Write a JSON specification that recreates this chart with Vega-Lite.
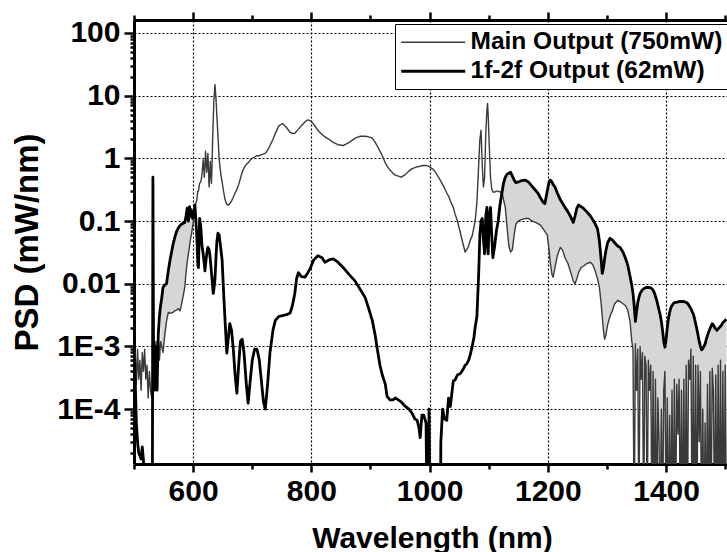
{
  "$schema": "https://vega.github.io/schema/vega-lite/v6.json",
  "width": 593,
  "height": 444,
  "autosize": "none",
  "padding": {"left": 134, "top": 20, "right": 0, "bottom": 88},
  "background": "white",
  "config": {"view": {"stroke": null}, "font": "Liberation Sans"},
  "data": {"values": [
    {"w":500,"main":4e-4,"f12":8e-4},{"w":502,"main":8e-4,"f12":3e-4},{"w":504,"main":2.5e-4,"f12":6e-5},{"w":506,"main":9e-4,"f12":3e-5},
    {"w":508,"main":3e-4,"f12":2e-5},{"w":510,"main":6e-4,"f12":1.8e-5},{"w":512,"main":2e-4,"f12":1.6e-5},{"w":514,"main":8e-4,"f12":2.5e-5},
    {"w":516,"main":4e-4,"f12":1.5e-5},{"w":518,"main":9e-4,"f12":1e-6},{"w":520,"main":3e-4,"f12":1e-6},{"w":522,"main":5e-4,"f12":1e-6},
    {"w":524,"main":1.5e-4,"f12":1e-6},{"w":526,"main":4e-4,"f12":1e-6},{"w":528,"main":2e-4,"f12":1e-6},{"w":530,"main":1.5e-4,"f12":1e-6},
    {"w":531,"main":2e-4,"f12":1e-6},{"w":532,"main":3e-4,"f12":0.5},{"w":533,"main":4e-4,"f12":1.2e-3},{"w":535,"main":3e-4,"f12":2e-4},
    {"w":537,"main":1.2e-3,"f12":1e-3},{"w":539,"main":4e-4,"f12":2e-4},{"w":541,"main":1.5e-3,"f12":1.5e-3},{"w":543,"main":6e-4,"f12":3e-3},
    {"w":545,"main":1.2e-3,"f12":4.5e-3},{"w":547,"main":1e-3,"f12":6e-3},{"w":549,"main":8e-4,"f12":8.7e-3},{"w":552,"main":1.5e-3,"f12":9.5e-3},
    {"w":555,"main":2.5e-3,"f12":0.01},{"w":558,"main":3.5e-3,"f12":0.016},{"w":561,"main":3.4e-3,"f12":0.024},{"w":563,"main":3.4e-3,"f12":0.03},
    {"w":566,"main":3.5e-3,"f12":0.042},{"w":569,"main":3.7e-3,"f12":0.055},{"w":572,"main":3.8e-3,"f12":0.068},{"w":575,"main":4e-3,"f12":0.078},
    {"w":578,"main":3.7e-3,"f12":0.085},{"w":581,"main":5e-3,"f12":0.09},{"w":584,"main":7e-3,"f12":0.093},{"w":586,"main":9e-3,"f12":0.095},
    {"w":588,"main":0.015,"f12":0.12},{"w":590,"main":0.022,"f12":0.16},{"w":592,"main":0.03,"f12":0.1},{"w":594,"main":0.04,"f12":0.17},
    {"w":596,"main":0.055,"f12":0.12},{"w":597,"main":0.06,"f12":0.15},{"w":599,"main":0.08,"f12":0.11},{"w":601,"main":0.11,"f12":0.12},
    {"w":603,"main":0.16,"f12":0.18},{"w":605,"main":0.2,"f12":0.09},{"w":606,"main":0.21,"f12":0.064},{"w":608,"main":0.3,"f12":0.02},
    {"w":609,"main":0.3,"f12":0.018},{"w":611,"main":0.4,"f12":0.11},{"w":613,"main":0.42,"f12":0.08},{"w":615,"main":0.55,"f12":0.04},
    {"w":617,"main":0.95,"f12":0.03},{"w":619,"main":0.5,"f12":0.02},{"w":620,"main":0.8,"f12":0.016},{"w":621,"main":1.3,"f12":0.02},
    {"w":623,"main":0.6,"f12":0.03},{"w":625,"main":1.2,"f12":0.038},{"w":627,"main":0.35,"f12":0.035},{"w":628,"main":0.5,"f12":0.03},
    {"w":629,"main":0.9,"f12":0.025},{"w":631,"main":0.4,"f12":0.015},{"w":632,"main":0.8,"f12":0.012},{"w":633,"main":2,"f12":0.009},
    {"w":634,"main":4,"f12":0.007},{"w":635,"main":8,"f12":0.008},{"w":637,"main":15,"f12":0.012},{"w":639,"main":8,"f12":0.03},
    {"w":640,"main":5,"f12":0.045},{"w":642,"main":2.3,"f12":0.064},{"w":644,"main":1,"f12":0.06},{"w":645,"main":0.8,"f12":0.05},
    {"w":647,"main":0.55,"f12":0.035},{"w":649,"main":0.42,"f12":0.024},{"w":652,"main":0.28,"f12":0.006},{"w":654,"main":0.22,"f12":0.0026},
    {"w":657,"main":0.185,"f12":7.8e-4},{"w":660,"main":0.18,"f12":1.5e-3},{"w":662,"main":0.19,"f12":2.3e-3},{"w":665,"main":0.21,"f12":1.8e-3},
    {"w":668,"main":0.24,"f12":9e-4},{"w":671,"main":0.28,"f12":3.5e-4},{"w":674,"main":0.32,"f12":1.8e-4},{"w":677,"main":0.38,"f12":5e-4},
    {"w":680,"main":0.48,"f12":1.2e-3},{"w":683,"main":0.6,"f12":1.3e-3},{"w":686,"main":0.7,"f12":8e-4},{"w":690,"main":0.8,"f12":2.5e-4},
    {"w":693,"main":0.85,"f12":1.25e-4},{"w":696,"main":0.92,"f12":2.5e-4},{"w":700,"main":1.0,"f12":6e-4},{"w":704,"main":1.05,"f12":9e-4},
    {"w":708,"main":1.1,"f12":9e-4},{"w":712,"main":1.1,"f12":6e-4},{"w":716,"main":1.15,"f12":2.5e-4},{"w":719,"main":1.18,"f12":1.3e-4},
    {"w":722,"main":1.2,"f12":1e-4},{"w":726,"main":1.35,"f12":2.5e-4},{"w":730,"main":1.6,"f12":8e-4},{"w":735,"main":2.0,"f12":1.8e-3},
    {"w":739,"main":2.5,"f12":2.6e-3},{"w":745,"main":3.3,"f12":3e-3},{"w":751,"main":3.6,"f12":3.1e-3},{"w":758,"main":3.1,"f12":3.2e-3},
    {"w":764,"main":2.6,"f12":3.4e-3},{"w":768,"main":2.5,"f12":4.5e-3},{"w":772,"main":2.5,"f12":7e-3},{"w":775,"main":2.7,"f12":0.012},
    {"w":778,"main":2.9,"f12":0.015},{"w":783,"main":3.3,"f12":0.013},{"w":789,"main":3.8,"f12":0.0127},{"w":794,"main":4.1,"f12":0.015},
    {"w":798,"main":4.0,"f12":0.0175},{"w":804,"main":3.5,"f12":0.024},{"w":811,"main":2.8,"f12":0.028},{"w":818,"main":2.4,"f12":0.026},
    {"w":823,"main":2.2,"f12":0.022},{"w":830,"main":2.0,"f12":0.024},{"w":837,"main":1.8,"f12":0.025},{"w":845,"main":1.65,"f12":0.022},
    {"w":854,"main":1.6,"f12":0.018},{"w":864,"main":1.8,"f12":0.014},{"w":874,"main":2.1,"f12":0.011},{"w":883,"main":2.25,"f12":0.008},
    {"w":891,"main":2.25,"f12":0.006},{"w":897,"main":2.2,"f12":0.004},{"w":903,"main":2.1,"f12":2.6e-3},{"w":908,"main":1.8,"f12":1.5e-3},
    {"w":911,"main":1.6,"f12":9.7e-4},{"w":916,"main":1.3,"f12":5e-4},{"w":920,"main":1.1,"f12":3.5e-4},{"w":925,"main":0.85,"f12":2.5e-4},
    {"w":928,"main":0.75,"f12":1.6e-4},{"w":933,"main":0.65,"f12":1.4e-4},{"w":938,"main":0.58,"f12":1.4e-4},{"w":942,"main":0.54,"f12":1.5e-4},
    {"w":947,"main":0.52,"f12":1.4e-4},{"w":952,"main":0.5,"f12":1.3e-4},{"w":959,"main":0.55,"f12":1.1e-4},{"w":965,"main":0.63,"f12":1e-4},
    {"w":970,"main":0.68,"f12":8.7e-5},{"w":975,"main":0.71,"f12":7e-5},{"w":979,"main":0.73,"f12":6.6e-5},{"w":982,"main":0.74,"f12":5e-5},
    {"w":984,"main":0.75,"f12":3.5e-5},{"w":987,"main":0.76,"f12":8e-5},{"w":990,"main":0.77,"f12":8e-5},{"w":994,"main":0.77,"f12":6e-5},
    {"w":996,"main":0.76,"f12":1e-6},{"w":998,"main":0.75,"f12":1e-6},{"w":999,"main":0.74,"f12":1e-4},{"w":1001,"main":0.72,"f12":1e-6},
    {"w":1005,"main":0.68,"f12":1e-6},{"w":1010,"main":0.6,"f12":1e-6},{"w":1015,"main":0.5,"f12":1e-6},{"w":1018,"main":0.45,"f12":1e-6},
    {"w":1019,"main":0.43,"f12":3e-5},{"w":1022,"main":0.38,"f12":1e-4},{"w":1025,"main":0.34,"f12":7e-5},{"w":1029,"main":0.28,"f12":6.6e-5},
    {"w":1032,"main":0.25,"f12":1.5e-4},{"w":1035,"main":0.21,"f12":1.1e-4},{"w":1040,"main":0.165,"f12":2.8e-4},{"w":1043,"main":0.13,"f12":2.9e-4},
    {"w":1047,"main":0.1,"f12":3.5e-4},{"w":1052,"main":0.065,"f12":3.7e-4},{"w":1056,"main":0.045,"f12":4.2e-4},{"w":1060,"main":0.032,"f12":5e-4},
    {"w":1063,"main":0.035,"f12":5.3e-4},{"w":1066,"main":0.04,"f12":6e-4},{"w":1069,"main":0.05,"f12":7.5e-4},{"w":1072,"main":0.058,"f12":1e-3},
    {"w":1075,"main":0.08,"f12":1.4e-3},{"w":1077,"main":0.1,"f12":2e-3},{"w":1080,"main":0.2,"f12":3e-3},{"w":1083,"main":0.8,"f12":0.0146},
    {"w":1085,"main":2.0,"f12":0.06},{"w":1087,"main":2.8,"f12":0.1},{"w":1089,"main":0.8,"f12":0.11},{"w":1091,"main":0.35,"f12":0.05},
    {"w":1093,"main":0.5,"f12":0.03},{"w":1095,"main":2.5,"f12":0.12},{"w":1097,"main":6,"f12":0.165},{"w":1098,"main":7.5,"f12":0.04},
    {"w":1099,"main":5,"f12":0.03},{"w":1101,"main":1.5,"f12":0.12},{"w":1103,"main":0.5,"f12":0.165},{"w":1105,"main":0.33,"f12":0.06},
    {"w":1107,"main":0.29,"f12":0.026},{"w":1110,"main":0.29,"f12":0.04},{"w":1113,"main":0.3,"f12":0.07},{"w":1116,"main":0.3,"f12":0.1},
    {"w":1119,"main":0.29,"f12":0.18},{"w":1122,"main":0.3,"f12":0.27},{"w":1125,"main":0.22,"f12":0.4},{"w":1128,"main":0.165,"f12":0.5},
    {"w":1131,"main":0.08,"f12":0.56},{"w":1134,"main":0.04,"f12":0.58},{"w":1137,"main":0.032,"f12":0.6},{"w":1140,"main":0.035,"f12":0.52},
    {"w":1143,"main":0.06,"f12":0.45},{"w":1146,"main":0.09,"f12":0.41},{"w":1150,"main":0.1,"f12":0.42},{"w":1155,"main":0.105,"f12":0.44},
    {"w":1162,"main":0.11,"f12":0.45},{"w":1167,"main":0.11,"f12":0.42},{"w":1173,"main":0.1,"f12":0.36},{"w":1179,"main":0.095,"f12":0.31},
    {"w":1184,"main":0.09,"f12":0.27},{"w":1188,"main":0.085,"f12":0.23},{"w":1192,"main":0.075,"f12":0.2},{"w":1195,"main":0.068,"f12":0.19},
    {"w":1199,"main":0.06,"f12":0.3},{"w":1202,"main":0.035,"f12":0.42},{"w":1204,"main":0.022,"f12":0.45},{"w":1207,"main":0.014,"f12":0.42},
    {"w":1209,"main":0.0127,"f12":0.38},{"w":1212,"main":0.018,"f12":0.35},{"w":1216,"main":0.028,"f12":0.28},{"w":1221,"main":0.038,"f12":0.22},
    {"w":1225,"main":0.034,"f12":0.19},{"w":1229,"main":0.026,"f12":0.165},{"w":1234,"main":0.021,"f12":0.14},{"w":1238,"main":0.016,"f12":0.12},
    {"w":1243,"main":0.011,"f12":0.095},{"w":1246,"main":0.01,"f12":0.12},{"w":1249,"main":0.012,"f12":0.16},{"w":1252,"main":0.015,"f12":0.18},
    {"w":1256,"main":0.018,"f12":0.17},{"w":1260,"main":0.019,"f12":0.16},{"w":1266,"main":0.021,"f12":0.14},{"w":1272,"main":0.022,"f12":0.12},
    {"w":1276,"main":0.02,"f12":0.105},{"w":1280,"main":0.016,"f12":0.09},{"w":1284,"main":0.012,"f12":0.075},{"w":1287,"main":0.009,"f12":0.05},
    {"w":1290,"main":0.005,"f12":0.025},{"w":1292,"main":0.003,"f12":0.0146},{"w":1294,"main":0.0018,"f12":0.018},{"w":1296,"main":0.0013,"f12":0.025},
    {"w":1298,"main":0.0015,"f12":0.033},{"w":1301,"main":0.0022,"f12":0.045},{"w":1305,"main":0.003,"f12":0.053},{"w":1309,"main":0.0037,"f12":0.05},
    {"w":1313,"main":0.0048,"f12":0.045},{"w":1318,"main":0.0054,"f12":0.04},{"w":1322,"main":0.0052,"f12":0.038},{"w":1327,"main":0.0048,"f12":0.032},
    {"w":1331,"main":0.0045,"f12":0.026},{"w":1335,"main":0.0038,"f12":0.02},{"w":1339,"main":0.0025,"f12":0.013},{"w":1342,"main":0.0012,"f12":0.0095},
    {"w":1344,"main":9e-4,"f12":0.007},{"w":1346,"main":1e-6,"f12":0.0045},{"w":1348,"main":1.1e-3,"f12":0.0025},{"w":1350,"main":2e-4,"f12":0.0035},
    {"w":1352,"main":9e-4,"f12":0.005},{"w":1354,"main":1e-6,"f12":0.006},{"w":1356,"main":1e-3,"f12":0.007},{"w":1358,"main":3e-4,"f12":0.0075},
    {"w":1360,"main":8e-4,"f12":0.008},{"w":1362,"main":1e-6,"f12":0.0083},{"w":1364,"main":7e-4,"f12":0.0085},{"w":1366,"main":5e-4,"f12":0.0087},
    {"w":1368,"main":1e-6,"f12":0.0087},{"w":1370,"main":6e-4,"f12":0.0087},{"w":1372,"main":2e-4,"f12":0.0087},{"w":1374,"main":5e-4,"f12":0.0086},
    {"w":1376,"main":1e-6,"f12":0.0083},{"w":1378,"main":4e-4,"f12":0.0079},{"w":1380,"main":1e-6,"f12":0.0072},{"w":1382,"main":3e-4,"f12":0.0063},
    {"w":1384,"main":1e-6,"f12":0.0055},{"w":1386,"main":1.5e-4,"f12":0.0046},{"w":1388,"main":3e-5,"f12":0.0038},{"w":1390,"main":1e-6,"f12":0.0032},
    {"w":1392,"main":1e-4,"f12":0.0025},{"w":1394,"main":1e-6,"f12":0.0018},{"w":1396,"main":2e-4,"f12":0.0012},{"w":1398,"main":4e-4,"f12":0.00097},
    {"w":1400,"main":1e-6,"f12":0.0013},{"w":1402,"main":1.5e-4,"f12":0.002},{"w":1404,"main":1e-6,"f12":0.0028},{"w":1406,"main":8e-5,"f12":0.0035},
    {"w":1408,"main":1e-6,"f12":0.0041},{"w":1410,"main":2e-4,"f12":0.0045},{"w":1412,"main":1e-6,"f12":0.0048},{"w":1414,"main":3e-4,"f12":0.005},
    {"w":1416,"main":1e-6,"f12":0.005},{"w":1418,"main":2.5e-4,"f12":0.0051},{"w":1420,"main":4e-5,"f12":0.0051},{"w":1422,"main":3e-4,"f12":0.0052},
    {"w":1424,"main":1e-6,"f12":0.0052},{"w":1426,"main":2e-4,"f12":0.0052},{"w":1428,"main":1e-6,"f12":0.0052},{"w":1430,"main":3e-4,"f12":0.0052},
    {"w":1432,"main":1e-6,"f12":0.0051},{"w":1434,"main":5e-4,"f12":0.005},{"w":1436,"main":1e-6,"f12":0.0049},{"w":1438,"main":6e-4,"f12":0.0046},
    {"w":1440,"main":3e-4,"f12":0.0043},{"w":1442,"main":9e-4,"f12":0.004},{"w":1444,"main":1e-6,"f12":0.0036},{"w":1446,"main":7e-4,"f12":0.0033},
    {"w":1448,"main":1e-6,"f12":0.0028},{"w":1450,"main":5e-4,"f12":0.0023},{"w":1452,"main":1e-6,"f12":0.0019},{"w":1454,"main":5e-4,"f12":0.0015},
    {"w":1456,"main":3e-5,"f12":0.0012},{"w":1458,"main":4e-4,"f12":0.001},{"w":1460,"main":1e-6,"f12":0.00088},{"w":1462,"main":1e-4,"f12":0.00092},
    {"w":1464,"main":1e-6,"f12":0.001},{"w":1466,"main":6e-5,"f12":0.0011},{"w":1468,"main":1e-6,"f12":0.0013},{"w":1470,"main":2.5e-4,"f12":0.0015},
    {"w":1472,"main":1e-6,"f12":0.0017},{"w":1474,"main":4e-4,"f12":0.0019},{"w":1476,"main":1e-6,"f12":0.0021},{"w":1478,"main":4.5e-4,"f12":0.0023},
    {"w":1480,"main":2e-4,"f12":0.0022},{"w":1482,"main":1e-6,"f12":0.002},{"w":1484,"main":3.5e-4,"f12":0.0019},{"w":1486,"main":1e-6,"f12":0.0018},
    {"w":1488,"main":5e-4,"f12":0.0019},{"w":1490,"main":1e-6,"f12":0.002},{"w":1492,"main":6e-4,"f12":0.0021},{"w":1494,"main":1e-6,"f12":0.0022},
    {"w":1496,"main":4e-4,"f12":0.0024},{"w":1498,"main":1e-6,"f12":0.0025},{"w":1500,"main":5e-4,"f12":0.0026},{"w":1502,"main":1e-6,"f12":0.0027}
  ]},
  "layer": [
    {
      "transform": [{"filter": "datum.w >= 545 && datum.w <= 601"}],
      "mark": {"type": "area", "color": "#d6d6d6", "clip": true},
      "encoding": {
        "x": {"field": "w", "type": "quantitative", "scale": {"domain": [500, 1503], "nice": false, "zero": false},
          "axis": {"orient": "top", "values": [600, 800, 1000, 1200, 1400], "labels": false, "grid": false, "title": null,
            "domainWidth": 3, "domainColor": "black", "tickColor": "black", "tickWidth": 2.5, "tickSize": 8}},
        "y": {"field": "main", "type": "quantitative", "scale": {"type": "log", "domain": [1.33e-5, 161], "nice": false}, "axis": null},
        "y2": {"field": "f12"}
      }
    },
    {
      "transform": [{"filter": "datum.w >= 1119"}],
      "mark": {"type": "area", "color": "#d6d6d6", "clip": true},
      "encoding": {
        "x": {"field": "w", "type": "quantitative", "scale": {"domain": [500, 1503], "nice": false, "zero": false},
          "axis": {"orient": "top", "values": [500, 700, 900, 1100, 1300, 1500], "labels": false, "grid": false, "title": null,
            "domain": false, "tickColor": "black", "tickWidth": 2.5, "tickSize": 5}},
        "y": {"field": "main", "type": "quantitative", "scale": {"type": "log", "domain": [1.33e-5, 161], "nice": false},
          "axis": {"orient": "left", "values": [2e-5,3e-5,4e-5,5e-5,6e-5,7e-5,8e-5,9e-5,2e-4,3e-4,4e-4,5e-4,6e-4,7e-4,8e-4,9e-4,2e-3,3e-3,4e-3,5e-3,6e-3,7e-3,8e-3,9e-3,0.02,0.03,0.04,0.05,0.06,0.07,0.08,0.09,0.2,0.3,0.4,0.5,0.6,0.7,0.8,0.9,2,3,4,5,6,7,8,9,20,30,40,50,60,70,80,90],
            "labels": false, "grid": false, "title": null, "domain": false, "tickColor": "black", "tickWidth": 2.5, "tickSize": 4}},
        "y2": {"field": "f12"}
      }
    },
    {
      "transform": [{"fold": ["main", "f12"], "as": ["series", "v"]}, {"filter": "datum.series == 'main'"}],
      "mark": {"type": "line", "clip": true, "strokeJoin": "round"},
      "encoding": {
        "x": {"field": "w", "type": "quantitative", "scale": {"domain": [500, 1503], "nice": false, "zero": false},
          "axis": {"orient": "bottom", "values": [600, 800, 1000, 1200, 1400], "format": "d",
            "labelFont": "Liberation Sans", "labelFontSize": 30, "labelFontWeight": "bold", "labelColor": "black", "labelPadding": 4, "labelFlush": false,
            "tickSize": 8, "grid": true, "gridColor": "black", "gridDash": [2, 2], "gridWidth": 1.2,
            "domainWidth": 3, "domainColor": "black", "tickColor": "black", "tickWidth": 2.5,
            "title": "Wavelength (nm)", "titleFont": "Liberation Sans", "titleFontSize": 30, "titleFontWeight": "bold", "titleColor": "black",
            "titleX": 298, "titleY": 83, "titleBaseline": "alphabetic", "titleAlign": "center"}},
        "y": {"field": "v", "type": "quantitative", "scale": {"type": "log", "domain": [1.33e-5, 161], "nice": false},
          "axis": {"orient": "left", "values": [1e-4, 1e-3, 0.01, 0.1, 1, 10, 100],
            "labelExpr": "datum.value < 0.0005 ? '1E-4' : datum.value < 0.005 ? '1E-3' : format(datum.value, '~g')",
            "labelFont": "Liberation Sans", "labelFontSize": 30, "labelFontWeight": "bold", "labelColor": "black", "labelPadding": 4, "labelFlush": false,
            "tickSize": 10, "grid": true, "gridColor": "black", "gridDash": [2, 2], "gridWidth": 1.2,
            "domainWidth": 3, "domainColor": "black", "tickColor": "black", "tickWidth": 2.5,
            "title": "PSD (mW/nm)", "titleFont": "Liberation Sans", "titleFontSize": 33, "titleFontWeight": "bold", "titleColor": "black",
            "titleX": -97, "titleY": 222, "titleBaseline": "alphabetic", "titleAlign": "center", "titleAngle": -90}},
        "color": {"field": "series", "type": "nominal",
          "scale": {"domain": ["main", "f12"], "range": ["#3a3a3a", "#000000"]},
          "legend": {"orient": "none", "legendX": 261, "legendY": 4, "title": null, "direction": "vertical",
            "labelExpr": "datum.value == 'main' ? 'Main Output (750mW)' : '1f-2f Output (62mW)'",
            "labelFont": "Liberation Sans", "labelFontSize": 24.5, "labelFontWeight": "bold", "labelColor": "black", "labelOffset": 25, "labelLimit": 400,
            "symbolType": "M-4,0H4", "symbolSize": 256, "symbolOffset": 20, "rowPadding": 4, "padding": 6,
            "strokeColor": "black", "fillColor": "white", "offset": 0}},
        "strokeWidth": {"field": "series", "type": "nominal",
          "scale": {"domain": ["main", "f12"], "range": [1.4, 2.8]},
          "legend": {"orient": "none", "legendX": 261, "legendY": 4, "title": null, "direction": "vertical",
            "labelExpr": "datum.value == 'main' ? 'Main Output (750mW)' : '1f-2f Output (62mW)'",
            "labelFont": "Liberation Sans", "labelFontSize": 24.5, "labelFontWeight": "bold", "labelColor": "black", "labelOffset": 25, "labelLimit": 400,
            "symbolType": "M-4,0H4", "symbolSize": 256, "symbolOffset": 20, "rowPadding": 4, "padding": 6,
            "strokeColor": "black", "fillColor": "white", "offset": 0}}
      }
    },
    {
      "transform": [{"fold": ["main", "f12"], "as": ["series", "v"]}, {"filter": "datum.series == 'f12'"}],
      "mark": {"type": "line", "clip": true, "strokeJoin": "round"},
      "encoding": {
        "x": {"field": "w", "type": "quantitative", "scale": {"domain": [500, 1503], "nice": false, "zero": false},
          "axis": {"orient": "bottom", "values": [500, 700, 900, 1100, 1300, 1500], "labels": false, "grid": false, "title": null,
            "domain": false, "tickColor": "black", "tickWidth": 2.5, "tickSize": 5}},
        "y": {"field": "v", "type": "quantitative", "scale": {"type": "log", "domain": [1.33e-5, 161], "nice": false}, "axis": null},
        "color": {"field": "series", "type": "nominal",
          "scale": {"domain": ["main", "f12"], "range": ["#3a3a3a", "#000000"]},
          "legend": {"orient": "none", "legendX": 261, "legendY": 4, "title": null, "direction": "vertical",
            "labelExpr": "datum.value == 'main' ? 'Main Output (750mW)' : '1f-2f Output (62mW)'",
            "labelFont": "Liberation Sans", "labelFontSize": 24.5, "labelFontWeight": "bold", "labelColor": "black", "labelOffset": 25, "labelLimit": 400,
            "symbolType": "M-4,0H4", "symbolSize": 256, "symbolOffset": 20, "rowPadding": 4, "padding": 6,
            "strokeColor": "black", "fillColor": "white", "offset": 0}},
        "strokeWidth": {"field": "series", "type": "nominal",
          "scale": {"domain": ["main", "f12"], "range": [1.4, 2.8]},
          "legend": {"orient": "none", "legendX": 261, "legendY": 4, "title": null, "direction": "vertical",
            "labelExpr": "datum.value == 'main' ? 'Main Output (750mW)' : '1f-2f Output (62mW)'",
            "labelFont": "Liberation Sans", "labelFontSize": 24.5, "labelFontWeight": "bold", "labelColor": "black", "labelOffset": 25, "labelLimit": 400,
            "symbolType": "M-4,0H4", "symbolSize": 256, "symbolOffset": 20, "rowPadding": 4, "padding": 6,
            "strokeColor": "black", "fillColor": "white", "offset": 0}}
      }
    }
  ],
  "resolve": {"axis": {"x": "independent", "y": "independent"}}
}
